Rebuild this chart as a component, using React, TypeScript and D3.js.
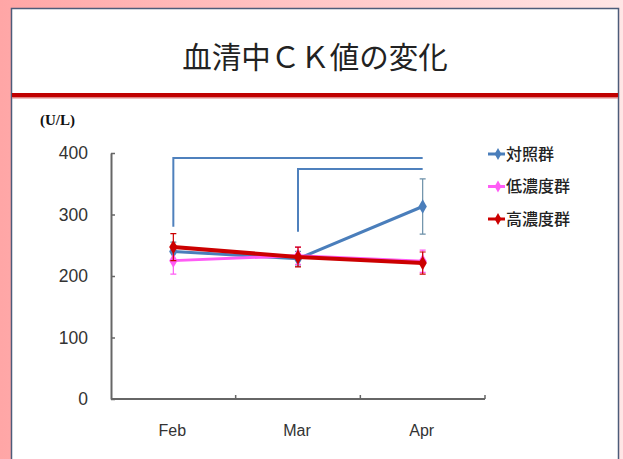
import * as d3 from 'd3';
import { useEffect, useRef } from 'react';

const months = ['Feb', 'Mar', 'Apr'];
const yTicks = [0, 100, 200, 300, 400];

const seriesNames = ['対照群', '低濃度群', '高濃度群'];
const seriesColors = ['#4a7ebb', '#ff5cf5', '#cc0000'];
const seriesWidths = [3, 3, 4];

const controlValues = [240, 228, 313];
const controlErrors = [15, 12, 45];
const lowValues = [225, 233, 224];
const lowErrors = [22, 14, 18];
const highValues = [247, 231, 221];
const highErrors = [22, 16, 18];

// significance brackets: [from, to, level]
const brackets: [string, string, number][] = [
    ['Feb', 'Apr', 392],
    ['Mar', 'Apr', 374],
];
const bracketBottoms = [280, 272];

export default function App() {
    const svgRef = useRef<SVGSVGElement>(null);

    useEffect(() => {
        if (!svgRef.current) return;
        const width = 623;
        const height = 459;
        const svg = d3.select(svgRef.current);
        svg.selectAll('*').remove();

        // pink backdrop
        const defs = svg.append('defs');
        const grad = defs.append('linearGradient').attr('id', 'bg').attr('x1', 0).attr('x2', 1).attr('y1', 0).attr('y2', 0);
        grad.append('stop').attr('offset', '0%').attr('stop-color', '#ffa6a6');
        grad.append('stop').attr('offset', '100%').attr('stop-color', '#ffe6e6');
        svg.append('rect').attr('width', width).attr('height', height).attr('fill', 'url(#bg)');

        // white slide card
        svg.append('rect')
            .attr('x', 11.5)
            .attr('y', 8.5)
            .attr('width', 607)
            .attr('height', 470)
            .attr('fill', '#fff')
            .attr('stroke', '#4d5c7a')
            .attr('stroke-width', 1.5);

        svg.append('text')
            .attr('x', 315)
            .attr('y', 68)
            .attr('text-anchor', 'middle')
            .attr('font-family', '"Noto Sans CJK JP"')
            .attr('font-size', 29.5)
            .attr('fill', '#222')
            .text('血清中ＣＫ値の変化');

        svg.append('rect').attr('x', 12).attr('y', 93).attr('width', 606).attr('height', 4).attr('fill', '#c00000');
        svg.append('rect').attr('x', 12).attr('y', 97).attr('width', 606).attr('height', 1.5).attr('fill', '#e08080');

        svg.append('text')
            .attr('x', 40)
            .attr('y', 125)
            .attr('font-family', '"Liberation Serif", serif')
            .attr('font-weight', 'bold')
            .attr('font-size', 15)
            .attr('fill', '#111')
            .text('(U/L)');

        const x = d3.scaleBand<string>().domain(months).range([111, 485]).padding(0);
        const cx = (m: string) => x(m)! + x.bandwidth() / 2;
        const y = d3.scaleLinear().domain([0, 400]).range([399, 153]);

        // y axis
        const yAxis = svg
            .append('g')
            .attr('transform', `translate(${x.range()[0]},0)`)
            .call(d3.axisRight(y).tickValues(yTicks).tickSize(4).tickSizeOuter(0).tickFormat(() => ''));
        yAxis.select('.domain').attr('stroke', '#666').attr('stroke-width', 2);
        yAxis.selectAll('.tick line').attr('stroke', '#666').attr('stroke-width', 1.5);

        svg.append('g')
            .selectAll('text')
            .data(yTicks)
            .join('text')
            .attr('x', 88)
            .attr('y', (d) => y(d))
            .attr('dy', '0.36em')
            .attr('text-anchor', 'end')
            .attr('font-family', 'Arial, "Liberation Sans", sans-serif')
            .attr('font-size', 17.5)
            .attr('fill', '#333')
            .text((d) => d);

        // x axis with ticks at band edges
        const edges = months.map((m) => x(m)! + x.bandwidth());
        svg.append('line')
            .attr('x1', x.range()[0])
            .attr('x2', x.range()[1])
            .attr('y1', y(0))
            .attr('y2', y(0))
            .attr('stroke', '#666')
            .attr('stroke-width', 2);
        svg.append('g')
            .selectAll('line')
            .data(edges)
            .join('line')
            .attr('x1', (d) => d)
            .attr('x2', (d) => d)
            .attr('y1', y(0))
            .attr('y2', y(0) - 4)
            .attr('stroke', '#666')
            .attr('stroke-width', 1.5);
        svg.append('g')
            .selectAll('text')
            .data(months)
            .join('text')
            .attr('x', (d) => cx(d) - 1)
            .attr('y', 436)
            .attr('text-anchor', 'middle')
            .attr('font-family', 'Arial, "Liberation Sans", sans-serif')
            .attr('font-size', 16)
            .attr('fill', '#333')
            .text((d) => d);

        // brackets
        brackets.forEach(([a, b, lvl], i) => {
            const p = d3.path();
            p.moveTo(cx(a), y(bracketBottoms[i]));
            p.lineTo(cx(a), y(lvl));
            p.lineTo(cx(b), y(lvl));
            svg.append('path').attr('d', p.toString()).attr('fill', 'none').attr('stroke', '#4f81bd').attr('stroke-width', 2);
        });

        const allValues = [controlValues, lowValues, highValues];
        const allErrors = [controlErrors, lowErrors, highErrors];
        const line = d3
            .line<number>()
            .x((_, i) => cx(months[i]))
            .y((d) => y(d));
        const diamond = d3.symbol().type(d3.symbolDiamond).size(60);

        allValues.forEach((vals, s) => {
            const g = svg.append('g');
            const color = seriesColors[s];
            g.selectAll('.err')
                .data(vals)
                .join('path')
                .attr('d', (d, i) => {
                    const e = allErrors[s][i];
                    const xx = cx(months[i]);
                    return `M${xx - 3},${y(d + e)}H${xx + 3}M${xx},${y(d + e)}V${y(d - e)}M${xx - 3},${y(d - e)}H${xx + 3}`;
                })
                .attr('stroke', s === 0 ? '#6b8fa8' : color)
                .attr('stroke-width', 1.2)
                .attr('fill', 'none');
            g.append('path')
                .datum(vals)
                .attr('d', line)
                .attr('fill', 'none')
                .attr('stroke', color)
                .attr('stroke-width', seriesWidths[s]);
            g.selectAll('.pt')
                .data(vals)
                .join('path')
                .attr('transform', (d, i) => `translate(${cx(months[i])},${y(d)})`)
                .attr('d', diamond)
                .attr('fill', color);
        });

        // legend
        const legend = svg.append('g').attr('transform', 'translate(488,154)');
        seriesNames.forEach((name, i) => {
            const row = legend.append('g').attr('transform', `translate(0,${i * 32.5})`);
            row.append('line').attr('x1', 0).attr('x2', 17).attr('stroke', seriesColors[i]).attr('stroke-width', 3);
            row.append('path').attr('transform', 'translate(10,0)').attr('d', d3.symbol().type(d3.symbolDiamond).size(40)).attr('fill', seriesColors[i]);
            row.append('text')
                .attr('x', 18)
                .attr('dy', '0.36em')
                .attr('font-family', '"Noto Sans CJK JP"')
                .attr('font-size', 16)
                .attr('font-weight', 500)
                .attr('fill', '#222')
                .text(name);
        });
    }, []);

    return <svg ref={svgRef} width={623} height={459} style={{ position: 'absolute', left: 0, top: 0 }} />;
}
